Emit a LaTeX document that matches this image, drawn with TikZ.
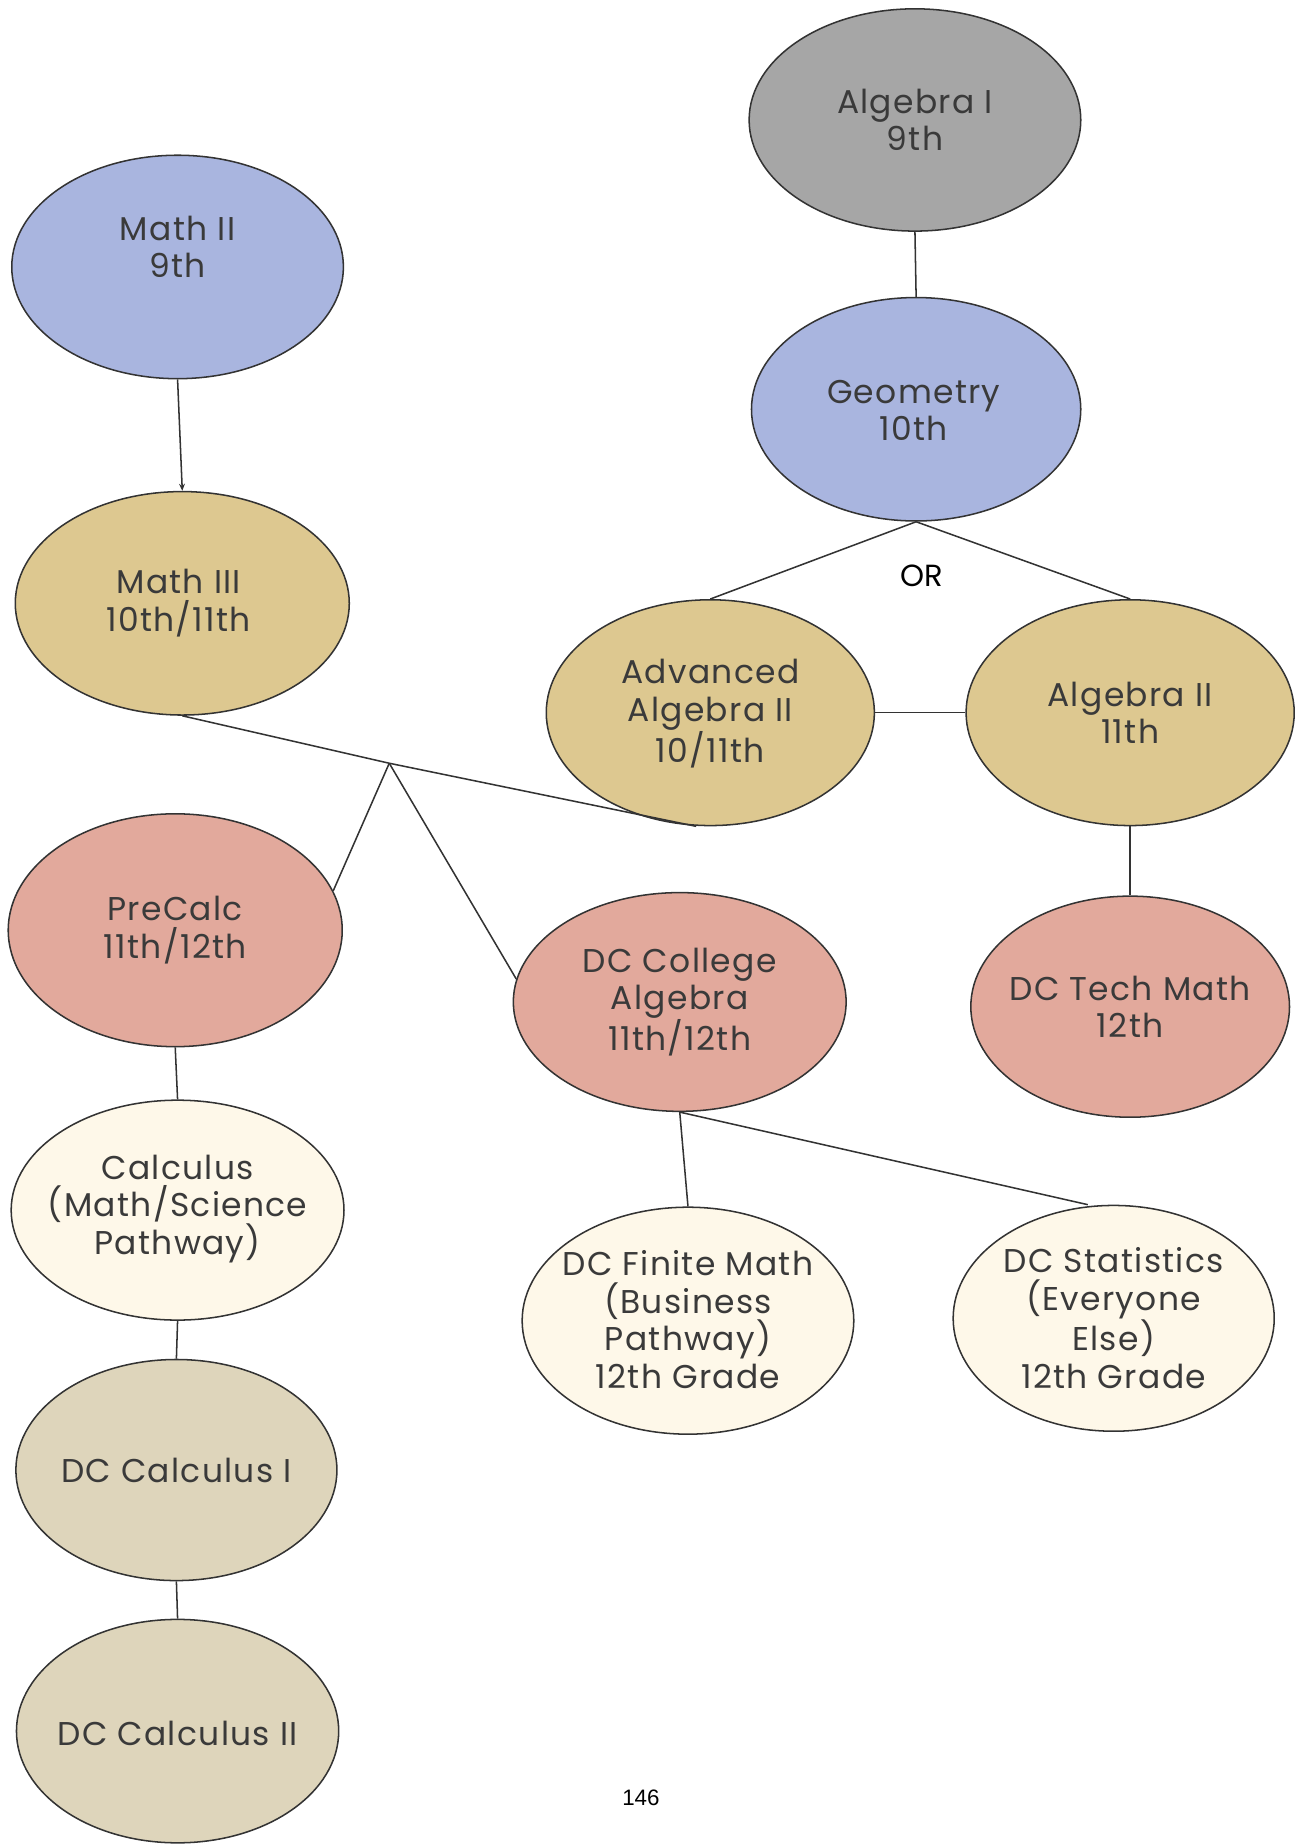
\documentclass[tikz,border=0pt]{standalone}
\usepackage{fontspec}
\setmainfont{Poppins}[LetterSpace=4]
\newfontfamily\orfont{Poppins}
\newfontfamily\pagefont{Liberation Sans}
\usetikzlibrary{shapes.geometric,arrows.meta,calc}
\definecolor{cgray}{HTML}{A6A6A6}
\definecolor{cblue}{HTML}{A9B5DF}
\definecolor{ctan}{HTML}{DDC890}
\definecolor{cpink}{HTML}{E2A99C}
\definecolor{ccream}{HTML}{FEF8E9}
\definecolor{cbeige}{HTML}{DED5BB}
\definecolor{cline}{HTML}{333333}
\definecolor{ctext}{HTML}{3A3A3A}
\tikzset{
  course/.style={ellipse, draw=cline, line width=1.3pt, inner sep=0pt},
  ctext/.style={align=center, text=ctext, font=\fontsize{28}{32}\selectfont, inner sep=0pt, yshift=-2pt},
  link/.style={draw=cline, line width=1.3pt},
}
\begin{document}
\begin{tikzpicture}[x=1pt,y=-1pt]
\useasboundingbox (0,0) rectangle (1105,1568);
% ellipses
\node[course, fill=cgray, minimum width=282pt, minimum height=189pt] (alg1) at (778,102) {};
\node[course, fill=cblue, minimum width=280pt, minimum height=190pt] (geo) at (779,348) {};
\node[course, fill=cblue, minimum width=282pt, minimum height=190pt] (m2) at (151,227) {};
\node[course, fill=ctan, minimum width=284pt, minimum height=190pt] (m3) at (155,513) {};
\node[course, fill=ctan, minimum width=279pt, minimum height=192pt] (adv) at (604,606) {};
\node[course, fill=ctan, minimum width=279pt, minimum height=192pt] (alg2) at (961,606) {};
\node[course, fill=cpink, minimum width=284pt, minimum height=198pt] (pre) at (149,791) {};
\node[course, fill=cpink, minimum width=283pt, minimum height=186pt] (dcc) at (578,852) {};
\node[course, fill=cpink, minimum width=271pt, minimum height=188pt] (tech) at (961,856) {};
\node[course, fill=ccream, minimum width=283pt, minimum height=187pt] (calc) at (151,1029) {};
\node[course, fill=ccream, minimum width=282pt, minimum height=193pt] (fin) at (585,1123) {};
\node[course, fill=ccream, minimum width=273pt, minimum height=192pt] (stat) at (947,1121) {};
\node[course, fill=cbeige, minimum width=273pt, minimum height=188pt] (c1) at (150,1250) {};
\node[course, fill=cbeige, minimum width=274pt, minimum height=190pt] (c2) at (151,1472) {};
% texts
\node[ctext] (alg1t) at (778,100) {Algebra I\\9th};
\node[ctext] (geot) at (777,347) {Geometry\\10th};
\node[ctext] (m2t) at (151,208) {Math II\\9th};
\node[ctext] (m3t) at (152,511) {Math III\\10th/11th};
\node[ctext] (advt) at (604,605) {Advanced\\Algebra II\\10/11th};
\node[ctext] (alg2t) at (961,604) {Algebra II\\11th};
\node[ctext] (pret) at (149,789) {PreCalc\\11th/12th};
\node[ctext] (dcct) at (578,850) {DC College\\Algebra\\11th/12th};
\node[ctext] (techt) at (961,854) {DC Tech Math\\12th};
\node[ctext] (calct) at (151,1026) {Calculus\\(Math/Science\\Pathway)};
\node[ctext] (fint) at (585,1120) {DC Finite Math\\(Business\\Pathway)\\12th Grade};
\node[ctext] (statt) at (947,1119) {DC Statistics\\(Everyone\\Else)\\12th Grade};
\node[ctext] (c1t) at (150,1248) {DC Calculus I};
\node[ctext] (c2t) at (151,1472) {DC Calculus II};
\node[font=\orfont\fontsize{26}{30}\selectfont, text=black, inner sep=0pt] (or) at (784,490) {OR};
\node[font=\pagefont\fontsize{19}{22}\selectfont, text=black, inner sep=0pt] (page) at (545,1529) {146};
% connectors
\draw[link, -{Stealth[length=6pt,width=5pt]}] (m2.south) -- (m3.north);
\draw[link] (alg1.south) -- (geo.north);
\draw[link] (geo.south) -- (adv.north);
\draw[link] (geo.south) -- (alg2.north);
\draw[link] (adv.east) -- (alg2.west);
\draw[link] (alg2.south) -- (tech.north);
\coordinate (J) at (331,649);
\coordinate (advb) at ($(adv.south)+(-12,0)$);
\draw[link] (m3.south) -- (J) -- (advb);
\draw[link] (J) -- (pre.14);
\draw[link] (J) -- (dcc.172);
\draw[link] (pre.south) -- (calc.north);
\draw[link] (calc.south) -- (c1.north);
\draw[link] (c1.south) -- (c2.north);
\draw[link] (dcc.south) -- (fin.north);
\draw[link] (dcc.south) -- ($(stat.north)+(-22,0)$);
\end{tikzpicture}
\end{document}
